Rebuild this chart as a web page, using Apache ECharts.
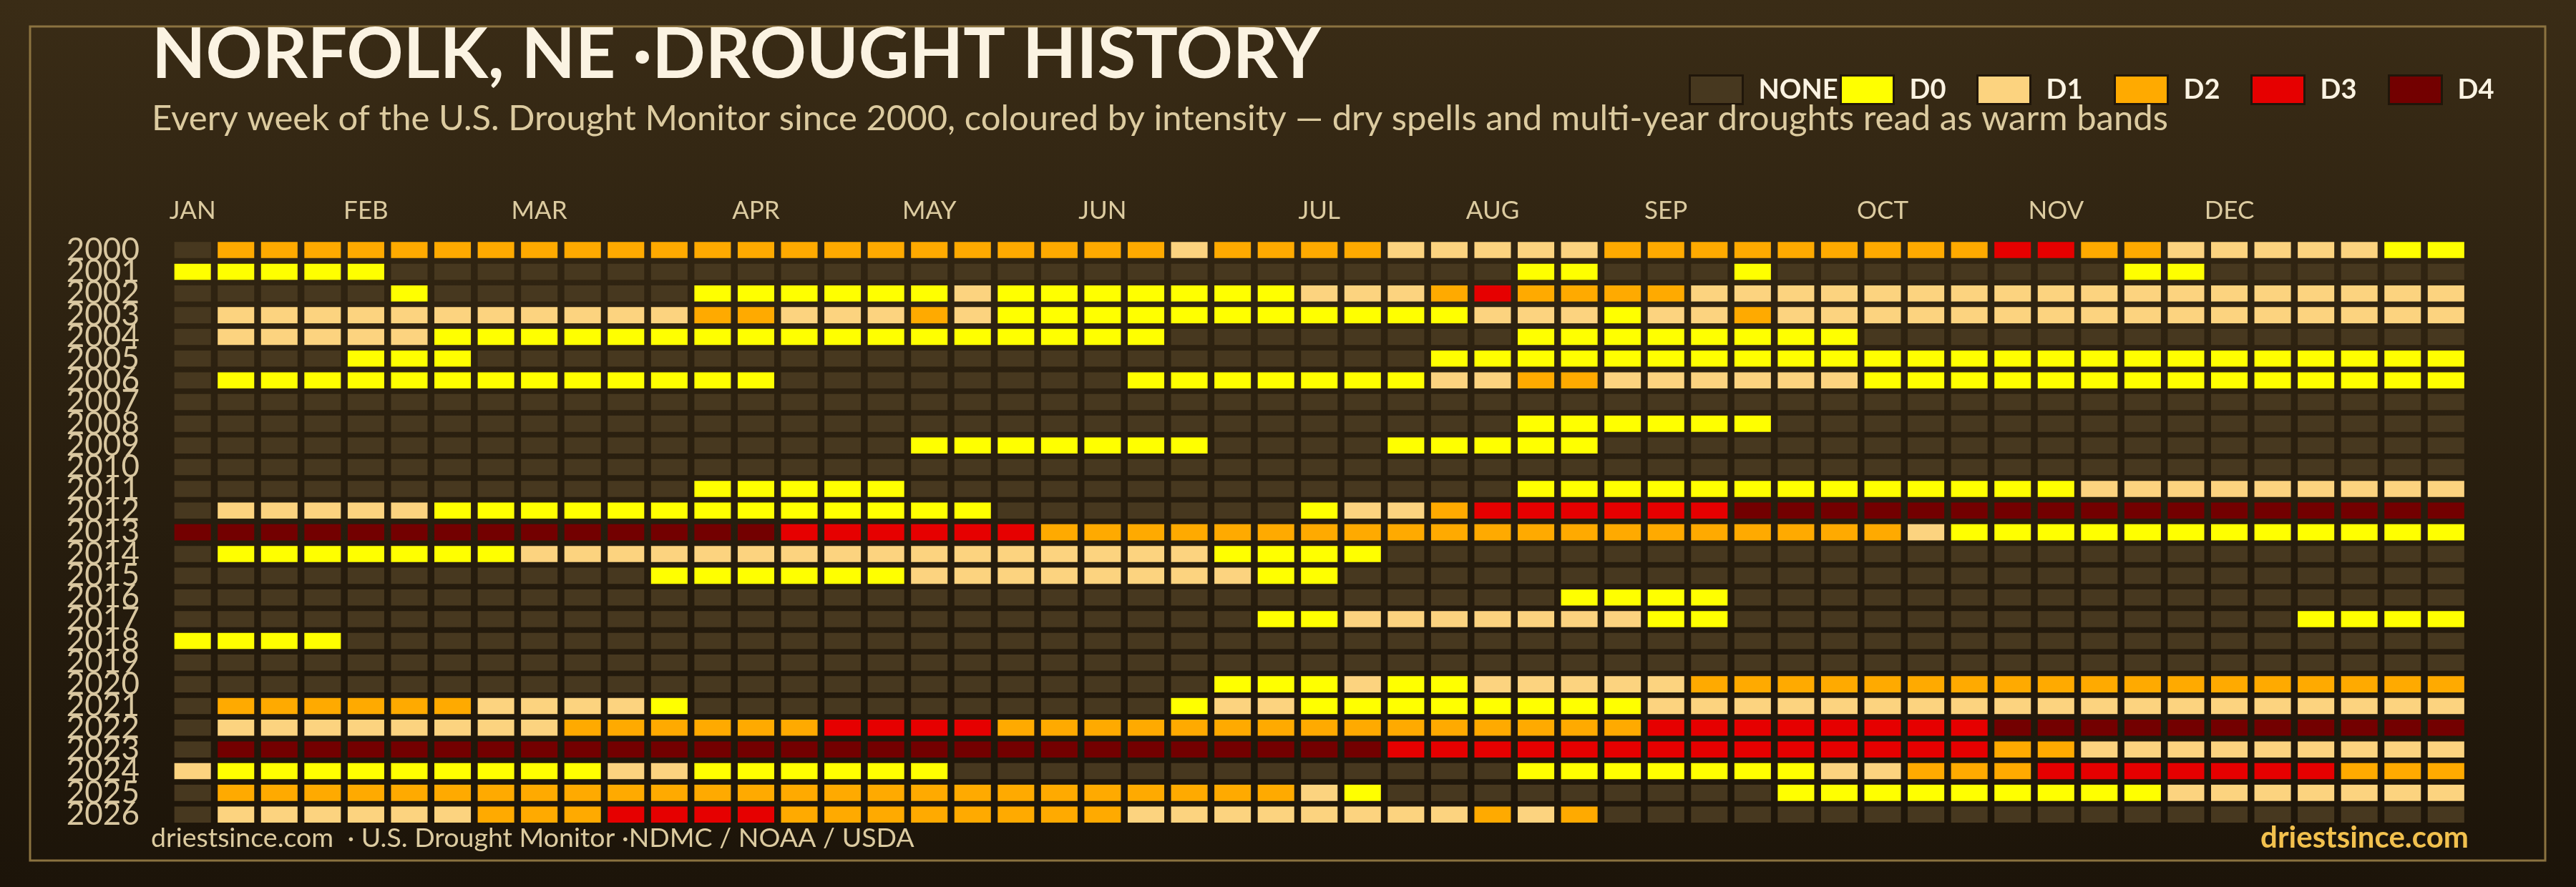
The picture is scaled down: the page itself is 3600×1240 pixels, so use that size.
<!DOCTYPE html>
<html><head><meta charset="utf-8">
<script src="https://cdn.jsdelivr.net/npm/echarts@6/dist/echarts.min.js"></script>
<style>html,body{margin:0;padding:0;background:#2c2110}#chart{width:3600px;height:1240px}</style>
</head><body><div id="chart"></div>
<script>
// ---- data: drought level per week (0=NONE,1=D0,2=D1,3=D2,4=D3,5=D4)
const years = ['2000','2001','2002','2003','2004','2005','2006','2007','2008','2009','2010','2011','2012','2013','2014','2015','2016','2017','2018','2019','2020','2021','2022','2023','2024','2025','2026'];
const monthTicks = ['JAN','','','','FEB','','','','MAR','','','','','APR','','','','MAY','','','','JUN','','','','','JUL','','','','AUG','','','','SEP','','','','','OCT','','','','NOV','','','','DEC','','','','',''];
const levels = ['NONE','D0','D1','D2','D3','D4'];

const y2000 = [0,3,3,3,3,3,3,3,3,3,3,3,3,3,3,3,3, 3,3,3,3,3,3,2,3,3,3,3,2,2,2,2,2,3,3, 3,3,3,3,3,3,3,4,4,3,3,2,2,2,2,2,1,1];
const y2001 = [1,1,1,1,1,0,0,0,0,0,0,0,0,0,0,0,0, 0,0,0,0,0,0,0,0,0,0,0,0,0,0,1,1,0,0, 0,1,0,0,0,0,0,0,0,0,1,1,0,0,0,0,0,0];
const y2002 = [0,0,0,0,0,1,0,0,0,0,0,0,1,1,1,1,1, 1,2,1,1,1,1,1,1,1,2,2,2,3,4,3,3,3,3, 2,2,2,2,2,2,2,2,2,2,2,2,2,2,2,2,2,2];
const y2003 = [0,2,2,2,2,2,2,2,2,2,2,2,3,3,2,2,2, 3,2,1,1,1,1,1,1,1,1,1,1,1,2,2,2,1,2, 2,3,2,2,2,2,2,2,2,2,2,2,2,2,2,2,2,2];
const y2004 = [0,2,2,2,2,2,1,1,1,1,1,1,1,1,1,1,1, 1,1,1,1,1,1,0,0,0,0,0,0,0,0,1,1,1,1, 1,1,1,1,0,0,0,0,0,0,0,0,0,0,0,0,0,0];
const y2005 = [0,0,0,0,1,1,1,0,0,0,0,0,0,0,0,0,0, 0,0,0,0,0,0,0,0,0,0,0,0,1,1,1,1,1,1, 1,1,1,1,1,1,1,1,1,1,1,1,1,1,1,1,1,1];
const y2006 = [0,1,1,1,1,1,1,1,1,1,1,1,1,1,0,0,0, 0,0,0,0,0,1,1,1,1,1,1,1,2,2,3,3,2,2, 2,2,2,2,1,1,1,1,1,1,1,1,1,1,1,1,1,1];
const y2007 = [0,0,0,0,0,0,0,0,0,0,0,0,0,0,0,0,0, 0,0,0,0,0,0,0,0,0,0,0,0,0,0,0,0,0,0, 0,0,0,0,0,0,0,0,0,0,0,0,0,0,0,0,0,0];
const y2008 = [0,0,0,0,0,0,0,0,0,0,0,0,0,0,0,0,0, 0,0,0,0,0,0,0,0,0,0,0,0,0,0,1,1,1,1, 1,1,0,0,0,0,0,0,0,0,0,0,0,0,0,0,0,0];
const y2009 = [0,0,0,0,0,0,0,0,0,0,0,0,0,0,0,0,0, 1,1,1,1,1,1,1,0,0,0,0,1,1,1,1,1,0,0, 0,0,0,0,0,0,0,0,0,0,0,0,0,0,0,0,0,0];
const y2010 = [0,0,0,0,0,0,0,0,0,0,0,0,0,0,0,0,0, 0,0,0,0,0,0,0,0,0,0,0,0,0,0,0,0,0,0, 0,0,0,0,0,0,0,0,0,0,0,0,0,0,0,0,0,0];
const y2011 = [0,0,0,0,0,0,0,0,0,0,0,0,1,1,1,1,1, 0,0,0,0,0,0,0,0,0,0,0,0,0,0,1,1,1,1, 1,1,1,1,1,1,1,1,1,2,2,2,2,2,2,2,2,2];
const y2012 = [0,2,2,2,2,2,1,1,1,1,1,1,1,1,1,1,1, 1,1,0,0,0,0,0,0,0,1,2,2,3,4,4,4,4,4, 4,5,5,5,5,5,5,5,5,5,5,5,5,5,5,5,5,5];
const y2013 = [5,5,5,5,5,5,5,5,5,5,5,5,5,5,4,4,4, 4,4,4,3,3,3,3,3,3,3,3,3,3,3,3,3,3,3, 3,3,3,3,3,2,1,1,1,1,1,1,1,1,1,1,1,1];
const y2014 = [0,1,1,1,1,1,1,1,2,2,2,2,2,2,2,2,2, 2,2,2,2,2,2,2,1,1,1,1,0,0,0,0,0,0,0, 0,0,0,0,0,0,0,0,0,0,0,0,0,0,0,0,0,0];
const y2015 = [0,0,0,0,0,0,0,0,0,0,0,1,1,1,1,1,1, 2,2,2,2,2,2,2,2,1,1,0,0,0,0,0,0,0,0, 0,0,0,0,0,0,0,0,0,0,0,0,0,0,0,0,0,0];
const y2016 = [0,0,0,0,0,0,0,0,0,0,0,0,0,0,0,0,0, 0,0,0,0,0,0,0,0,0,0,0,0,0,0,0,1,1,1, 1,0,0,0,0,0,0,0,0,0,0,0,0,0,0,0,0,0];
const y2017 = [0,0,0,0,0,0,0,0,0,0,0,0,0,0,0,0,0, 0,0,0,0,0,0,0,0,1,1,2,2,2,2,2,2,2,1, 1,0,0,0,0,0,0,0,0,0,0,0,0,0,1,1,1,1];
const y2018 = [1,1,1,1,0,0,0,0,0,0,0,0,0,0,0,0,0, 0,0,0,0,0,0,0,0,0,0,0,0,0,0,0,0,0,0, 0,0,0,0,0,0,0,0,0,0,0,0,0,0,0,0,0,0];
const y2019 = [0,0,0,0,0,0,0,0,0,0,0,0,0,0,0,0,0, 0,0,0,0,0,0,0,0,0,0,0,0,0,0,0,0,0,0, 0,0,0,0,0,0,0,0,0,0,0,0,0,0,0,0,0,0];
const y2020 = [0,0,0,0,0,0,0,0,0,0,0,0,0,0,0,0,0, 0,0,0,0,0,0,0,1,1,1,2,1,1,2,2,2,2,2, 3,3,3,3,3,3,3,3,3,3,3,3,3,3,3,3,3,3];
const y2021 = [0,3,3,3,3,3,3,2,2,2,2,1,0,0,0,0,0, 0,0,0,0,0,0,1,2,2,1,1,1,1,1,1,1,1,2, 2,2,2,2,2,2,2,2,2,2,2,2,2,2,2,2,2,2];
const y2022 = [0,2,2,2,2,2,2,2,2,3,3,3,3,3,3,4,4, 4,4,3,3,3,3,3,3,3,3,3,3,3,3,3,3,3,4, 4,4,4,4,4,4,4,5,5,5,5,5,5,5,5,5,5,5];
const y2023 = [0,5,5,5,5,5,5,5,5,5,5,5,5,5,5,5,5, 5,5,5,5,5,5,5,5,5,5,5,4,4,4,4,4,4,4, 4,4,4,4,4,4,4,3,3,2,2,2,2,2,2,2,2,2];
const y2024 = [2,1,1,1,1,1,1,1,1,1,2,2,1,1,1,1,1, 1,0,0,0,0,0,0,0,0,0,0,0,0,0,1,1,1,1, 1,1,1,2,2,3,3,3,4,4,4,4,4,4,4,3,3,3];
const y2025 = [0,3,3,3,3,3,3,3,3,3,3,3,3,3,3,3,3, 3,3,3,3,3,3,3,3,3,2,1,0,0,0,0,0,0,0, 0,0,1,1,1,1,1,1,1,1,1,2,2,2,2,2,2,2];
const y2026 = [0,2,2,2,2,2,2,3,3,3,4,4,4,4,3,3,3, 3,3,3,3,3,2,2,2,2,2,2,2,2,3,2,3,0,0, 0,0,0,0,0,0,0,0,0,0,0,0,0,0,0,0,0,0];

const yearRows = [y2000,y2001,y2002,y2003,y2004,y2005,y2006,y2007,y2008,y2009,y2010,y2011,y2012,y2013,y2014,y2015,y2016,y2017,y2018,y2019,y2020,y2021,y2022,y2023,y2024,y2025,y2026];

// ---- styling
const FONT = 'Lato, "Noto Sans", sans-serif';
const levelColors = ['#47381f','#ffff00','#fcd37f','#ffaa00','#e60000','#730000'];
const legendLeft = [2360, 2571, 2762, 2954, 3145, 3337];
const weeks = monthTicks.map((m, i) => 'W' + (i + 1));

function cellsFor(level) {
  const out = [];
  yearRows.forEach((row, yi) => row.forEach((v, wi) => { if (v === level) out.push([wi, yi, v]); }));
  return out;
}

function renderCell(params, api) {
  const p = api.coord([api.value(0), api.value(1)]);
  const s = api.size([1, 1]);
  const w = s[0] - 9.5, h = s[1] - 7.8;
  return { type: 'rect', shape: { x: p[0] - w / 2, y: p[1] - h / 2, width: w, height: h },
           style: { fill: api.visual('color') } };
}

const chart = echarts.init(document.getElementById('chart'), null, { renderer: 'canvas' });
chart.setOption({
  animation: false,
  backgroundColor: { type: 'linear', x: 0, y: 0, x2: 0, y2: 1,
    colorStops: [{ offset: 0, color: '#3a2c16' }, { offset: 0.4, color: '#2c2110' }, { offset: 1, color: '#1c1409' }] },
  title: [
    { text: 'NORFOLK, NE ·DROUGHT HISTORY', left: 212, top: 28, padding: 0,
      textStyle: { fontFamily: FONT, fontWeight: 'bold', fontSize: 98, color: '#fbf3e2' } },
    { text: 'Every week of the U.S. Drought Monitor since 2000, coloured by intensity — dry spells and multi-year droughts read as warm bands',
      left: 212, top: 142, padding: 0,
      textStyle: { fontFamily: FONT, fontWeight: 'normal', fontSize: 49, color: '#dccba0' } },
    { text: 'driestsince.com  · U.S. Drought Monitor ·NDMC / NOAA / USDA', left: 211, top: 1153, padding: 0,
      textStyle: { fontFamily: FONT, fontWeight: 'normal', fontSize: 37.5, color: '#dccba0' } },
    { text: 'driestsince.com', right: 150, top: 1150, padding: 0,
      textStyle: { fontFamily: FONT, fontWeight: 'bold', fontSize: 42, color: '#f2c14e' } }
  ],
  legend: levels.map((name, k) => ({
    left: legendLeft[k], top: 104, padding: 0, itemWidth: 74, itemHeight: 40, itemGap: 0,
    icon: 'rect', selectedMode: false,
    itemStyle: { borderColor: '#20160a', borderWidth: 3 },
    data: [name],
    formatter: n => '{n|' + n + '}',
    textStyle: { fontFamily: FONT, fontWeight: 'bold', fontSize: 38, color: '#fbf3e2',
      rich: { n: { padding: [0, 0, 0, 17], fontFamily: FONT, fontWeight: 'bold', fontSize: 38, color: '#fbf3e2' } } }
  })),
  grid: { left: 238.9, top: 334.4, width: 3209.7, height: 819.5 },
  xAxis: {
    type: 'category', position: 'top', data: weeks,
    axisLine: { show: false }, axisTick: { show: false }, splitLine: { show: false },
    axisLabel: { interval: 0, margin: 22, fontFamily: FONT, fontSize: 35, color: '#dccba0',
      formatter: (v, i) => monthTicks[i] }
  },
  yAxis: {
    type: 'category', inverse: true, data: years,
    axisLine: { show: false }, axisTick: { show: false }, splitLine: { show: false },
    axisLabel: { interval: 0, margin: 44, fontFamily: FONT, fontSize: 44, color: '#d9c7a0' }
  },
  graphic: [
    { type: 'rect', z: 0, silent: true, shape: { x: 42, y: 37, width: 3515, height: 1166 },
      style: { fill: 'none', stroke: '#8b7340', lineWidth: 3 } }
  ],
  series: levels.map((name, k) => ({
    type: 'custom', name: name, renderItem: renderCell,
    itemStyle: { color: levelColors[k] },
    encode: { x: 0, y: 1 },
    data: cellsFor(k)
  }))
});
</script></body></html>
